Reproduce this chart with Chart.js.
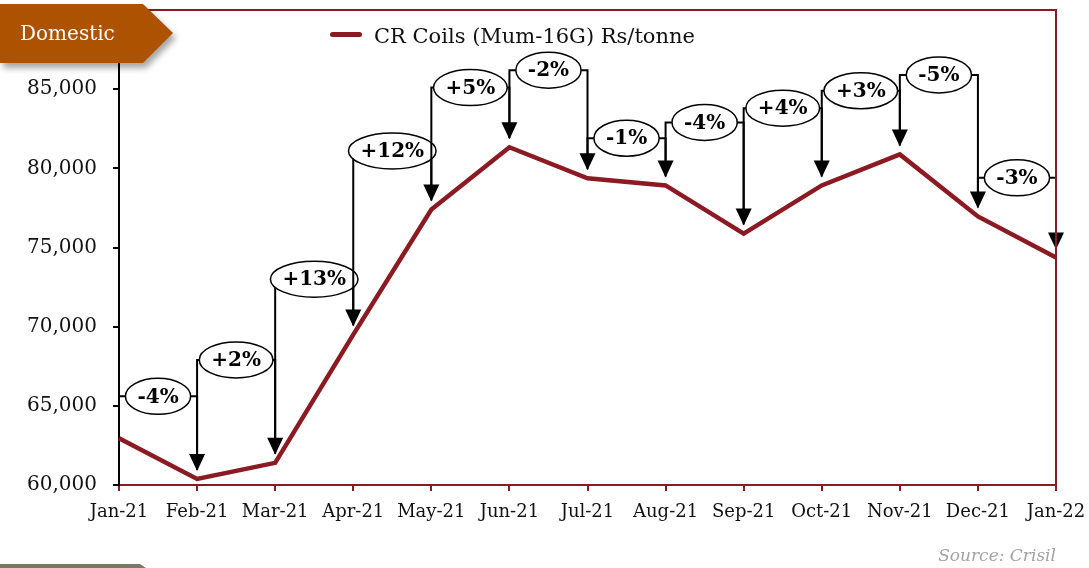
<!DOCTYPE html>
<html>
<head>
<meta charset="utf-8">
<script src="https://cdn.jsdelivr.net/npm/chart.js@4.4.1/dist/chart.umd.min.js"></script>
<style>
body { margin: 0; background: #fff; }
#wrap { position: relative; width: 1089px; height: 568px; font-family: "DejaVu Serif", serif; }
#tagShadow { position: absolute; left: 0; top: 4px; filter: drop-shadow(3px 5px 3px rgba(0,0,0,0.35)); }
#tag { width: 173px; height: 59px; background: #ad5300; color: #fff; font-size: 20px; line-height: 59px;
       padding-left: 20px; box-sizing: border-box;
       clip-path: polygon(0 0, 143px 0, 173px 29px, 143px 59px, 0 59px); }
#legend { position: absolute; left: 330px; top: 24px; font-size: 21px; color: #111; white-space: nowrap; }
#legend span.sw { display: inline-block; width: 32px; height: 5px; border-radius: 3px; background: #8b1a22;
                  vertical-align: middle; margin-right: 12px; position: relative; top: -3px; }
#source { position: absolute; right: 33px; top: 545px; font-size: 17px; font-style: italic; color: #a3a3a3; }
#bar { position: absolute; left: 0; top: 564px; width: 146px; height: 4px; background: #7d7866;
       clip-path: polygon(0 0, 140px 0, 146px 4px, 0 4px); }
</style>
</head>
<body>
<div id="wrap">
  <canvas id="mycanvas" width="1089" height="568"></canvas>
  <div id="tagShadow"><div id="tag">Domestic</div></div>
  <div id="legend"><span class="sw"></span>CR Coils (Mum-16G) Rs/tonne</div>
  <div id="source">Source: Crisil</div>
  <div id="bar"></div>
</div>
<script>
var months = ['Jan-21','Feb-21','Mar-21','Apr-21','May-21','Jun-21','Jul-21','Aug-21','Sep-21','Oct-21','Nov-21','Dec-21','Jan-22'];
var prices = [62950, 60380, 61400, 69500, 77400, 81330, 79370, 78920, 75880, 78920, 80880, 76960, 74370];
// month-on-month change labels and the height of each bracket
var changes = ['-4%','+2%','+13%','+12%','+5%','-2%','-1%','-4%','+4%','+3%','-5%','-3%'];
var bracketLevels = [65600, 67900, 73000, 81100, 85100, 86200, 81900, 82900, 83800, 84900, 85900, 79400];

var red = '#8b1a22';

var brackets = {
    id: 'brackets',
    afterDatasetsDraw: function(chart) {
        var ctx = chart.ctx;
        var xs = chart.scales.x, ys = chart.scales.y;
        ctx.save();
        ctx.strokeStyle = '#000';
        ctx.fillStyle = '#000';
        ctx.lineWidth = 2;
        ctx.font = 'bold 20px "DejaVu Serif"';
        for (var i = 0; i < changes.length; i++) {
            var x0 = xs.getPixelForValue(i), x1 = xs.getPixelForValue(i + 1);
            var yl = ys.getPixelForValue(bracketLevels[i]);
            var y0 = ys.getPixelForValue(prices[i]) - 9;
            var tip = ys.getPixelForValue(prices[i + 1]) - 8;
            ctx.beginPath();
            if (yl < y0) { ctx.moveTo(x0, y0); ctx.lineTo(x0, yl); } else { ctx.moveTo(x0, yl); }
            ctx.lineTo(x1, yl);
            ctx.lineTo(x1, tip - 12);
            ctx.stroke();
            ctx.beginPath();
            ctx.moveTo(x1, tip);
            ctx.lineTo(x1 - 8, tip - 17);
            ctx.lineTo(x1 + 8, tip - 17);
            ctx.closePath();
            ctx.fill();
            // oval label
            var cx = (x0 + x1) / 2;
            var tw = ctx.measureText(changes[i]).width;
            ctx.beginPath();
            ctx.ellipse(cx, yl, tw / 2 + 12, 18, 0, 0, Math.PI * 2);
            ctx.fillStyle = '#fff';
            ctx.fill();
            ctx.lineWidth = 1.5;
            ctx.stroke();
            ctx.lineWidth = 2;
            ctx.fillStyle = '#000';
            ctx.textAlign = 'center';
            ctx.textBaseline = 'middle';
            ctx.fillText(changes[i], cx, yl + 1);
        }
        ctx.restore();
    },
    afterDraw: function(chart) {
        var a = chart.chartArea, ctx = chart.ctx;
        ctx.save();
        ctx.strokeStyle = red;
        ctx.lineWidth = 2;
        ctx.beginPath();
        ctx.moveTo(a.left, a.top);
        ctx.lineTo(a.right, a.top);
        ctx.lineTo(a.right, a.bottom);
        ctx.stroke();
        ctx.restore();
    }
};

var chartdata = {
    labels: months,
    datasets: [{
        label: 'CR Coils (Mum-16G) Rs/tonne',
        data: prices,
        borderColor: red,
        borderWidth: 4.5,
        pointRadius: 0,
        fill: false,
        tension: 0
    }]
};

var ctx = document.getElementById('mycanvas');
var lineGraph = new Chart(ctx, {
    type: 'line',
    data: chartdata,
    plugins: [brackets],
    options: {
        animation: false,
        responsive: false,
        layout: { padding: { left: 0, right: 33, top: 10, bottom: 0 } },
        plugins: { legend: { display: false }, tooltip: { enabled: false } },
        scales: {
            x: {
                offset: false,
                grid: { drawOnChartArea: false, tickLength: 6, tickColor: red, lineWidth: 2 },
                border: { color: red, width: 2 },
                ticks: { color: '#111', font: { family: 'DejaVu Serif', size: 18 }, padding: 11, maxRotation: 0, autoSkip: false },
                afterFit: function(s) { s.height = 83; s.paddingLeft = 0; s.paddingRight = 0; }
            },
            y: {
                min: 60000,
                max: 90000,
                grid: { drawOnChartArea: false, tickLength: 6, tickColor: '#000', lineWidth: 2 },
                border: { color: '#000', width: 2 },
                ticks: {
                    stepSize: 5000,
                    color: '#111',
                    font: { family: 'DejaVu Serif', size: 20 },
                    padding: 16,
                    callback: function(v) { return v >= 90000 ? '' : v.toLocaleString('en-US'); }
                },
                afterFit: function(s) { s.width = 119; s.paddingTop = 0; s.paddingBottom = 0; }
            }
        }
    }
});
</script>
</body>
</html>
